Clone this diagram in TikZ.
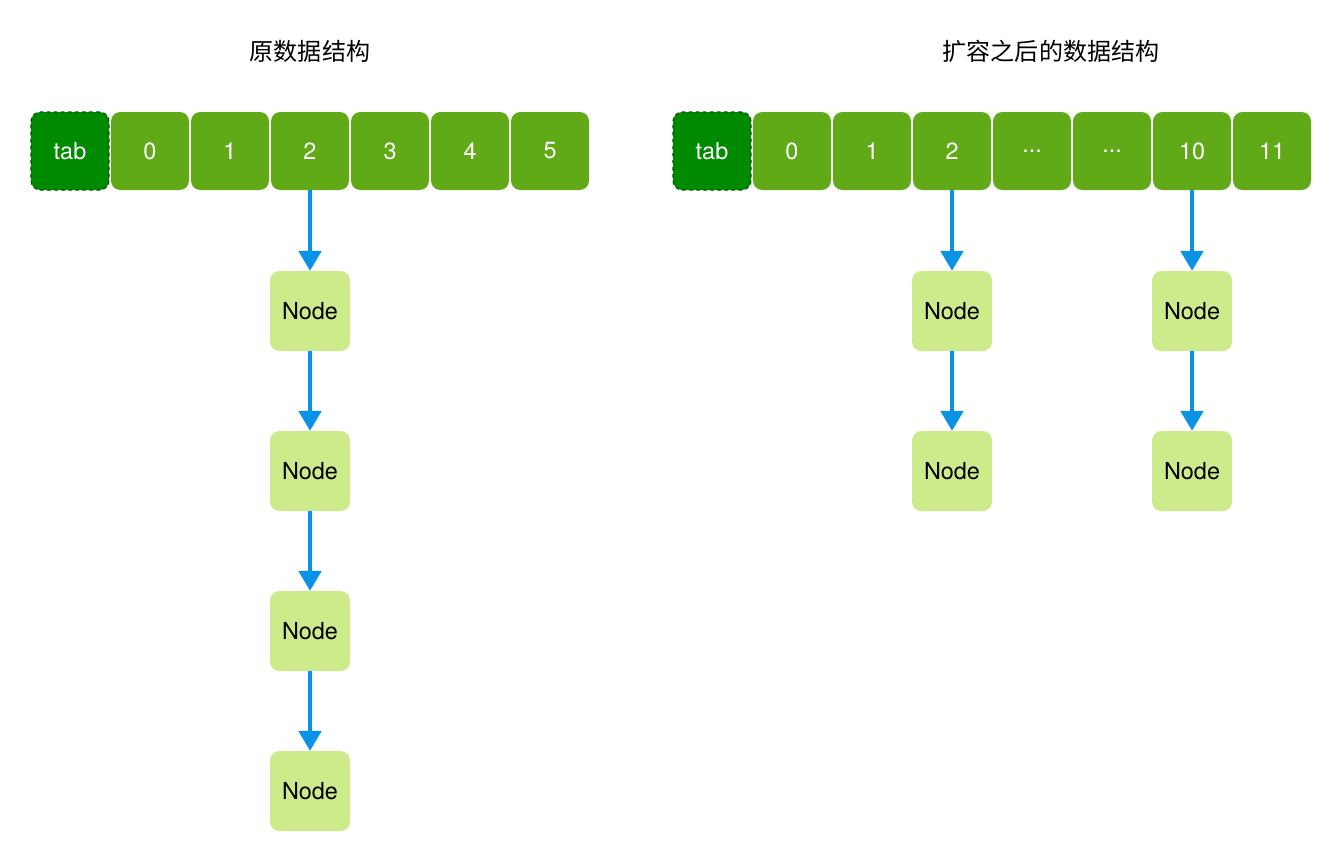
\documentclass[tikz,border=0pt]{standalone}
\usepackage{fontspec}
\setmainfont{TeX Gyre Heros}
\newfontfamily\cjk{Noto Sans CJK SC}
\usetikzlibrary{positioning,arrows.meta}

\definecolor{tabgreen}{HTML}{008A00}
\definecolor{tabedge}{HTML}{005700}
\definecolor{cellgreen}{HTML}{60A917}
\definecolor{nodegreen}{HTML}{CDEB8B}
\definecolor{linkblue}{HTML}{0A93E6}
\newcommand{\celldots}{...}

\begin{document}
\begin{tikzpicture}[x=0.03cm,y=-0.03cm,node distance=2.4cm,on grid,
  font=\fontsize{20}{24}\selectfont,
  cell/.style={fill=cellgreen,text=white,rounded corners=8pt,
    minimum width=2.34cm,minimum height=2.34cm,inner sep=0pt},
  tabcell/.style={cell,fill=tabgreen,draw=tabedge,dashed,line width=1pt},
  listnode/.style={fill=nodegreen,text=black,rounded corners=8pt,
    minimum width=2.4cm,minimum height=2.4cm,inner sep=0pt},
  link/.style={draw=linkblue,line width=3pt,
    -{Triangle[width=0.68cm,length=0.6cm]}},
  title/.style={font=\cjk\fontsize{20.5}{24}\selectfont}]
  \useasboundingbox (0,0) rectangle (1344,862);

  % original table
  \node[title] at (310,51) {原数据结构};
  \node[tabcell] (tabA) at (70,151) {tab};
  \foreach \t/\p in {0/tabA,1/a0,2/a1,3/a2,4/a3,5/a4}
    \node[cell,right=of \p] (a\t) {\t};

  \node[listnode,below=4.8cm of a2] (n1) {Node};
  \node[listnode,below=4.8cm of n1] (n2) {Node};
  \node[listnode,below=4.8cm of n2] (n3) {Node};
  \node[listnode,below=4.8cm of n3] (n4) {Node};
  \draw[link] (a2) -- (n1);
  \draw[link] (n1) -- (n2);
  \draw[link] (n2) -- (n3);
  \draw[link] (n3) -- (n4);

  % table after resize
  \node[title] at (1051,51) {扩容之后的数据结构};
  \node[tabcell] (tabB) at (712,151) {tab};
  \foreach \t/\i/\p in {0/0/tabB,1/1/b0,2/2/b1,\celldots/3/b2,\celldots/4/b3,10/5/b4,11/6/b5}
    \node[cell,right=of \p] (b\i) {\t};

  \node[listnode,below=4.8cm of b2] (m1) {Node};
  \node[listnode,below=4.8cm of m1] (m2) {Node};
  \node[listnode,below=4.8cm of b5] (k1) {Node};
  \node[listnode,below=4.8cm of k1] (k2) {Node};
  \draw[link] (b2) -- (m1);
  \draw[link] (m1) -- (m2);
  \draw[link] (b5) -- (k1);
  \draw[link] (k1) -- (k2);
\end{tikzpicture}
\end{document}
